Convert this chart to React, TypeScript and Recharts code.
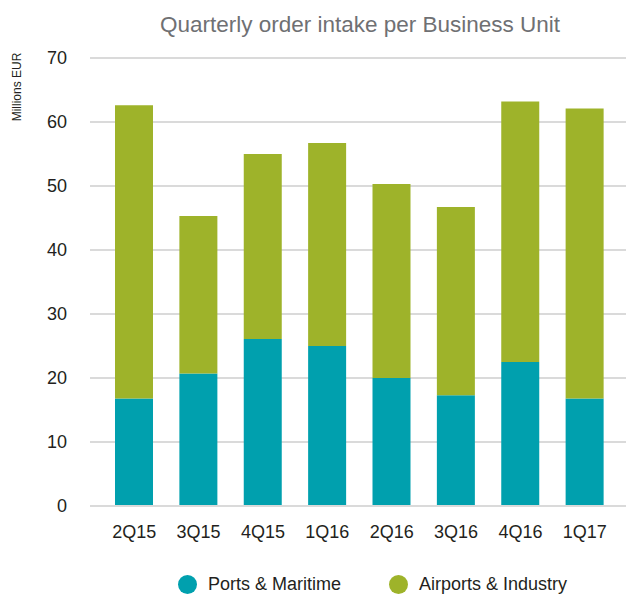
import {
  BarChart,
  Bar,
  XAxis,
  YAxis,
  CartesianGrid,
  Legend,
} from "recharts";

const QUARTERS = ["2Q15", "3Q15", "4Q15", "1Q16", "2Q16", "3Q16", "4Q16", "1Q17"];
const PORTS_MARITIME = [16.8, 20.7, 26.1, 25.0, 20.0, 17.3, 22.5, 16.8];
const AIRPORTS_INDUSTRY = [45.8, 24.6, 28.9, 31.7, 30.3, 29.4, 40.7, 45.3];
const Y_TICKS = [0, 10, 20, 30, 40, 50, 60, 70];

const TEAL = "#00A0AE";
const GREEN = "#9EB32A";
const FONT = "'Liberation Sans', Arial, sans-serif";

const data = QUARTERS.map((q, i) => ({
  name: q,
  ports: PORTS_MARITIME[i],
  airports: AIRPORTS_INDUSTRY[i],
}));

function LegendContent() {
  const items = [
    { label: "Ports & Maritime", color: TEAL },
    { label: "Airports & Industry", color: GREEN },
  ];
  return (
    <div
      style={{
        display: "flex",
        height: 30,
        alignItems: "center",
        paddingLeft: 178,
        whiteSpace: "nowrap",
      }}
    >
      {items.map((it) => (
        <div key={it.label} style={{ display: "flex", alignItems: "center", marginRight: 48 }}>
          <span
            style={{
              width: 19,
              height: 19,
              borderRadius: "50%",
              background: it.color,
              display: "inline-block",
              marginRight: 11,
            }}
          />
          <span style={{ fontFamily: FONT, fontSize: 18, color: "#231f20" }}>{it.label}</span>
        </div>
      ))}
    </div>
  );
}

export default function App() {
  return (
    <div style={{ position: "absolute", left: 0, top: 0, width: 627, height: 596, background: "#fff" }}>
      <div
        style={{
          position: "absolute",
          top: 12,
          left: 100,
          width: 520,
          textAlign: "center",
          fontFamily: FONT,
          fontSize: 22.5,
          color: "#6f7073",
          whiteSpace: "nowrap",
        }}
      >
        Quarterly order intake per Business Unit
      </div>
      <div
        style={{
          position: "absolute",
          left: 17,
          top: 87,
          transform: "translate(-50%, -50%) rotate(-90deg)",
          fontFamily: FONT,
          fontSize: 12,
          color: "#231f20",
          whiteSpace: "nowrap",
        }}
      >
        Millions EUR
      </div>
      <BarChart
        width={627}
        height={596}
        data={data}
        margin={{ top: 58, right: 1, left: 0, bottom: 30 }}
        barSize={38}
      >
        <CartesianGrid vertical={false} stroke="#dadada" strokeWidth={2} />
        <XAxis
          dataKey="name"
          axisLine={{ stroke: "#dadada", strokeWidth: 2 }}
          tickLine={false}
          tick={{ fontSize: 18, fill: "#231f20", fontFamily: FONT }}
          tickMargin={13}
          padding={{ left: 12, right: 9 }}
        />
        <YAxis
          width={90}
          domain={[0, 70]}
          ticks={Y_TICKS}
          axisLine={false}
          tickLine={false}
          tick={{ fontSize: 18, fill: "#231f20", fontFamily: FONT }}
          tickMargin={17}
        />
        <Legend
          verticalAlign="bottom"
          content={<LegendContent />}
          wrapperStyle={{ bottom: -3, left: 0, width: 627, height: 30 }}
        />
        <Bar dataKey="ports" stackId="a" fill={TEAL} name="Ports & Maritime" isAnimationActive={false} />
        <Bar dataKey="airports" stackId="a" fill={GREEN} name="Airports & Industry" isAnimationActive={false} />
      </BarChart>
    </div>
  );
}
